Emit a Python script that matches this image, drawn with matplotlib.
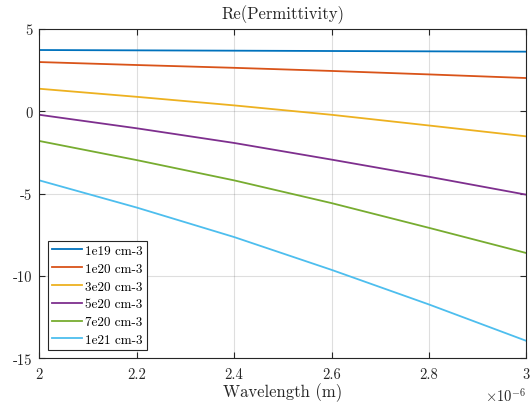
import numpy as np
import matplotlib
matplotlib.use('Agg')
import matplotlib.pyplot as plt
from matplotlib.ticker import FuncFormatter

plt.rcParams['font.family'] = 'serif'
plt.rcParams['font.serif'] = ['cmr10']
plt.rcParams['mathtext.fontset'] = 'cm'
plt.rcParams['axes.unicode_minus'] = False
plt.rcParams['axes.formatter.use_mathtext'] = False

# wavelength in metres
wavelength = np.array([2.0, 2.2, 2.4, 2.6, 2.8, 3.0]) * 1e-6

labels = ['1e19 cm-3', '1e20 cm-3', '3e20 cm-3', '5e20 cm-3', '7e20 cm-3', '1e21 cm-3']
eps_1e19 = [3.72, 3.70, 3.68, 3.66, 3.64, 3.62]
eps_1e20 = [2.99, 2.81, 2.64, 2.45, 2.24, 2.02]
eps_3e20 = [1.37, 0.88, 0.36, -0.21, -0.86, -1.52]
eps_5e20 = [-0.21, -1.03, -1.92, -2.93, -3.97, -5.06]
eps_7e20 = [-1.80, -2.96, -4.19, -5.57, -7.07, -8.60]
eps_1e21 = [-4.19, -5.84, -7.63, -9.62, -11.72, -13.93]
series = [eps_1e19, eps_1e20, eps_3e20, eps_5e20, eps_7e20, eps_1e21]

colors = [(0, 0.447, 0.741), (0.85, 0.325, 0.098), (0.929, 0.694, 0.125),
          (0.494, 0.184, 0.556), (0.466, 0.674, 0.188), (0.301, 0.745, 0.933)]

fig = plt.figure(figsize=(5.32, 4.10), dpi=100)
ax = fig.add_axes([0.0739, 0.1232, 0.9154, 0.8038])

for y, lab, c in zip(series, labels, colors):
    ax.plot(wavelength, y, color=c, lw=1.3, label=lab)

ax.set_xlim(2e-6, 3e-6)
ax.set_ylim(-15, 5)
ax.set_xticks(np.array([2.0, 2.2, 2.4, 2.6, 2.8, 3.0]) * 1e-6)
ax.set_yticks([-15, -10, -5, 0, 5])
ax.xaxis.set_major_formatter(FuncFormatter(lambda v, p: '%g' % round(v * 1e6, 3)))
ax.yaxis.set_major_formatter(FuncFormatter(lambda v, p: '%g' % v))
ax.text(1.0, -0.11, r'$\times 10^{-6}$', transform=ax.transAxes, ha='right',
        va='center', fontsize=10.5, color='0.15')

ax.grid(True, color='0.15', alpha=0.15, lw=0.8)
ax.tick_params(direction='in', top=True, right=True, labelsize=10.5, colors='0.15',
               length=4, width=0.8)
ax.tick_params(axis='x', pad=6)
ax.tick_params(axis='y', pad=5)
for s in ax.spines.values():
    s.set_color('0.15')
    s.set_linewidth(0.8)

ax.set_title('Re(Permittivity)', fontsize=12, color='0.15', pad=8)
ax.set_xlabel('Wavelength (m)', fontsize=12, color='0.15', labelpad=1)

leg = ax.legend(loc='lower left', fontsize=9.5, fancybox=False, framealpha=1,
                edgecolor='0.15', handlelength=2.3, handletextpad=0.2,
                labelspacing=0.42, borderpad=0.3, borderaxespad=0.65)
leg.get_frame().set_linewidth(0.8)

fig.savefig('out.png', dpi=100)
